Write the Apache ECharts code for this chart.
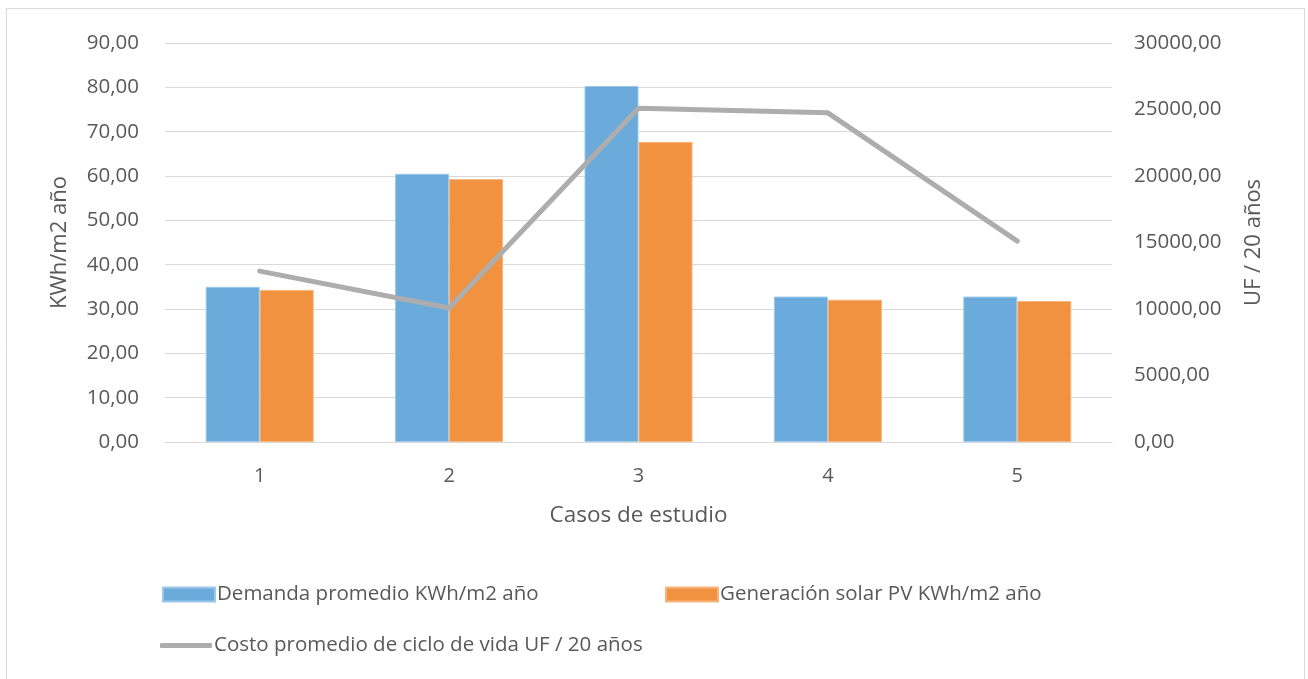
<!DOCTYPE html>
<html>
<head>
<meta charset="utf-8">
<script src="https://cdn.jsdelivr.net/npm/echarts@6/dist/echarts.min.js"></script>
<style>
  html, body { margin: 0; padding: 0; background: #fff; }
  #chart { width: 1308px; height: 679px; }
</style>
</head>
<body>
<div id="chart"></div>
<script>
// Case studies on the x axis
const casos = ['1', '2', '3', '4', '5'];
// Average demand, kWh/m2 per year (left axis)
const demanda = [35.0, 60.5, 80.3, 32.8, 32.8];
// Solar PV generation, kWh/m2 per year (left axis)
const generacion = [34.3, 59.3, 67.7, 32.1, 31.8];
// Average life-cycle cost, UF over 20 years (right axis)
const costo = [12850, 10080, 25100, 24750, 15100];

const serieNames = [
  'Demanda promedio KWh/m2 año',
  'Generación solar PV KWh/m2 año',
  'Costo promedio de ciclo de vida UF / 20 años'
];

const FONT = '"Open Sans", Lato, sans-serif';
const TEXT = '#595959';
const fmt = v => v.toFixed(2).replace('.', ',');

const chart = echarts.init(document.getElementById('chart'));

const legendBase = {
  orient: 'horizontal',
  itemWidth: 52,
  itemHeight: 14,
  itemGap: 0,
  textStyle: { color: TEXT, fontFamily: FONT, fontSize: 20.5, padding: [0, 0, 0, -3] },
  selectedMode: false
};

chart.setOption({
  animation: false,
  backgroundColor: '#fff',
  graphic: [{
    type: 'rect',
    shape: { x: 6.5, y: 8.5, width: 1298, height: 700 },
    style: { fill: 'none', stroke: '#d9d9d9', lineWidth: 1 },
    silent: true
  }],
  grid: { left: 165, right: 196, top: 43, bottom: 237 },
  legend: [
    Object.assign({}, legendBase, { left: 157, top: 579, data: [{ name: serieNames[0], icon: 'rect' }] }),
    Object.assign({}, legendBase, { left: 660, top: 579, data: [{ name: serieNames[1], icon: 'rect' }] }),
    Object.assign({}, legendBase, { left: 155, top: 630, data: [{ name: serieNames[2], icon: 'roundRect' }], itemHeight: 5 })
  ],
  xAxis: {
    type: 'category',
    data: casos,
    name: 'Casos de estudio',
    nameLocation: 'middle',
    nameGap: 62,
    nameTextStyle: { color: TEXT, fontFamily: FONT, fontSize: 22.5 },
    axisLine: { show: true, lineStyle: { color: '#d9d9d9', width: 1 } },
    axisTick: { show: false },
    axisLabel: { color: TEXT, fontFamily: FONT, fontSize: 20, margin: 24 }
  },
  yAxis: [{
    type: 'value',
    min: 0, max: 90, interval: 10,
    name: 'KWh/m2 año',
    nameLocation: 'middle',
    nameRotate: 90,
    nameGap: 94,
    nameTextStyle: { color: TEXT, fontFamily: FONT, fontSize: 22 },
    axisLine: { show: false },
    axisTick: { show: false },
    splitLine: { lineStyle: { color: '#d9d9d9', width: 1 } },
    axisLabel: { color: TEXT, fontFamily: FONT, fontSize: 20.5, margin: 26, formatter: fmt }
  }, {
    type: 'value',
    position: 'right',
    min: 0, max: 30000, interval: 5000,
    name: 'UF / 20 años',
    nameLocation: 'middle',
    nameRotate: 90,
    nameGap: 131,
    nameTextStyle: { color: TEXT, fontFamily: FONT, fontSize: 22 },
    axisLine: { show: false },
    axisTick: { show: false },
    splitLine: { show: false },
    axisLabel: { color: TEXT, fontFamily: FONT, fontSize: 20.5, margin: 22, formatter: fmt }
  }],
  series: [{
    name: serieNames[0],
    type: 'bar',
    data: demanda,
    barWidth: 54,
    barGap: '0%',
    itemStyle: { color: '#6aabdb', borderColor: '#9cc8ea', borderWidth: 1 }
  }, {
    name: serieNames[1],
    type: 'bar',
    data: generacion,
    barWidth: 54,
    barGap: '0%',
    itemStyle: { color: '#f19240', borderColor: '#f6b57c', borderWidth: 1 }
  }, {
    name: serieNames[2],
    type: 'line',
    yAxisIndex: 1,
    data: costo,
    symbol: 'none',
    lineStyle: { color: '#adadad', width: 5, cap: 'round', join: 'round' },
    itemStyle: { color: '#adadad' },
    z: 5
  }]
});
</script>
</body>
</html>
